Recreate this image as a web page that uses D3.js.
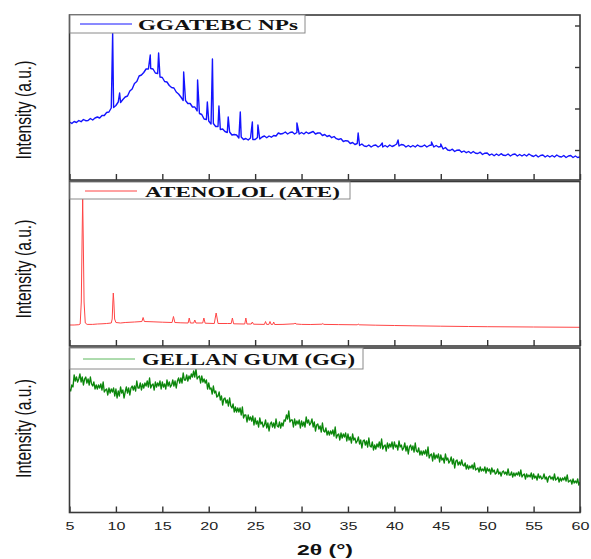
<!DOCTYPE html>
<html><head><meta charset="utf-8">
<script src="https://cdn.jsdelivr.net/npm/d3@7"></script>
<style>body{margin:0;background:#fff}</style>
</head><body><svg id="c" width="591" height="559"></svg>
<script>
// ---------------- DATA ----------------
const xTicks = [5,10,15,20,25,30,35,40,45,50,55,60];
const xTickLabels = ["5","10","15","20","25","30","35","40","45","50","55","60"];
const seriesNames = ["GGATEBC NPs","ATENOLOL (ATE)","GELLAN GUM (GG)"];
const yLabel = "Intensity (a.u.)";
const xLabel = "2θ (°)";
const blueRightTicks = [30, 71.5, 113, 154.5];

// GGATEBC NPs: measured on a 0.25° grid from 5° to 60°
const blueStart = 5, blueStep = 0.25;
const blueValues = [
 58,56.5,58.5,57.5, 59.5,58.3,60.5,59.3, 59.5,61.5,60,62, 63,62,64.5,64.5, 67.5,68,72,72.5,
 74.5,78,77.5,80.5, 83,84,89,91, 96.5,98.5,104,105, 107.5,111,111,111.5, 111,107,106.5,103,
 102.5,98.5,98,94.5, 92.5,92,88,86, 83,79.5,79.5,76.5, 76.5,73,73,69, 66.5,65.5,61,60.5,
 59,56,56.5,53.5, 53.5,50.5,51,48.5, 47.5,48,45,45.5, 45,42,43,40.5, 41.5,40,42,40.5,
 40.5,42.5,41,43, 44,42.3,44,42.8, 44.5,44,47,46, 46.5,48,46,47.5, 48,46,47.5,46,
 47.5,46,48,46.5, 47.5,48.5,46,47, 47,44.5,45.5,43.5, 44.5,42.3,43.5,41.3, 40.5,41.3,38.5,39.3,
 39,36.5,37.5,35.5, 36.5,34.5,36,34, 33.5,35,33,34.5, 35,33,34.5,33, 34.5,33,35,33.5,
 34.5,36,34,35.5, 35,33,34.5,33, 34.5,33,35,33.5, 33.5,35,33,34.5, 35,33,34.5,33,
 33.5,31,32.5,30, 29.5,30.8,28.5,29.8, 30,27.8,29,27.3, 28.5,26.8,28.5,26.8, 26.5,27.8,25.5,26.8,
 27,24.8,26,24.3, 26,24.5,26.3,24.7, 24.5,26,24,25.5, 26,24,25.5,24, 25.5,24,26,24.5,
 23.5,25,23,24.5, 25,23,24.5,23, 24.5,23,25,23.5, 23,24.5,22.5,24, 24.5,22.5,24,22.5,
 23
];
const bluePeaks = [
 [9.65,147],[10.4,87],[13.7,125],[14.6,127],[17.3,108],[18.8,100],[19.85,78],[20.4,121],
 [21.1,74],[22.1,63],[23.4,68],[24.7,58],[25.3,55],[29.5,57],[36.1,47],[38.7,37],
 [40.4,40],[44.0,38],[45.0,36]
];

// ATENOLOL (ATE)
const redPoints = [
 [5,22],[5.5,22],[6,22.3],[6.15,23],[6.27,45],[6.36,110],[6.42,148],[6.48,110],[6.57,45],[6.7,24],
 [6.9,22.6],[7.5,22.6],[8,23],[8.5,23.2],[9,23.5],[9.5,24],[9.6,28],[9.67,45],[9.72,54],[9.78,45],
 [9.86,28],[10,24.5],[10.5,24],[11,24.5],[12,25],[12.8,25.5],[12.93,29.5],[13.06,25.5],[14,25.2],
 [15,24.8],[16.05,24.5],[16.2,30.5],[16.35,24.5],[17,24.2],[17.78,24],[17.9,29],[18.02,24],[18.38,24],
 [18.5,27],[18.62,24],[19.35,24],[19.48,29],[19.61,23.8],[20.6,23.5],[20.72,30],[20.8,34],[20.88,30],
 [21,23.5],[22,23.5],[22.42,23.5],[22.55,29],[22.68,23.2],[23.88,23],[24,29],[24.12,23],[24.58,23],
 [24.7,25],[24.82,22.8],[26,22.6],[26.12,25.5],[26.24,22.6],[26.48,22.6],[26.6,25.5],[26.72,22.6],
 [26.9,22.6],[27,25],[27.1,22.5],[28,22.6],[29.2,23.2],[29.3,24],[29.4,23],[30,22.6],[31,22.5],
 [32.2,22.8],[32.3,23.5],[32.4,22.6],[34,22.4],[36,22.2],[36.1,23],[36.2,22.2],[38,21.8],[40,21.5],
 [42,21.2],[45,20.8],[48,20.5],[50,20.3],[55,20],[60,19.7]
];

// GELLAN GUM (GG): measured on a 0.125° grid from 5° to 60°
const ggStart = 5, ggStep = 0.125;
const ggValues = [
 123,121,127,125,137,131,135,130, 133,138,130,135,127,133,135,129, 133,127,135,128,126,130,123,127,
 123,127,124,128,122,130,120,122, 123,117,124,119,123,120,124,116, 123,114,121,116,125,119,122,114,
 120,125,119,124,117,124,126,122, 126,121,131,124,124,129,122,128, 124,129,126,131,125,134,124,127,
 128,122,130,125,129,126,131,123, 130,125,128,123,132,126,130,125, 127,132,126,131,124,131,134,129,
 134,129,139,132,132,137,131,136, 133,138,135,141,135,143,133,135, 136,129,136,130,133,129,132,123,
 129,123,124,118,126,119,121,115, 116,120,112,116,107,113,114,109, 112,106,114,106,104,108,100,105,
 100,104,100,104,97,105,94,97, 97,90,97,92,95,91,96,87, 94,88,91,85,94,88,90,85,
 87,92,84,89,81,88,90,85, 89,84,93,86,85,90,84,89, 86,92,91,97,93,101,90,92,
 92,85,93,87,91,88,92,84, 91,86,90,85,95,89,92,87, 89,93,85,90,81,87,88,83,
 86,80,89,81,80,84,77,81, 77,81,78,82,76,85,74,77, 78,72,79,74,78,75,79,71,
 78,72,75,69,78,72,74,69, 71,75,68,72,64,71,72,67, 71,65,74,66,65,70,62,67,
 63,68,65,70,64,73,63,66, 67,61,69,64,68,65,70,63, 70,65,67,62,71,65,67,62,
 64,69,61,66,58,65,67,62, 66,60,69,61,60,64,57,61, 57,61,58,62,56,65,54,57,
 58,51,59,53,57,54,58,50, 57,52,54,49,58,52,54,49, 51,55,48,53,44,51,52,47,
 50,47,52,47,46,49,43,47, 43,46,44,47,43,49,42,43, 44,40,45,41,43,41,45,39,
 44,41,43,38,44,40,42,38, 39,43,38,40,36,40,41,38, 40,37,43,37,37,40,35,39,
 36,39,37,40,36,42,35,37, 38,33,38,35,37,35,39,33, 38,34,36,32,38,34,36,33,
 34,38,33,35,30,35,36,33, 35,32,38,32,33,35,30,34, 31,34,32,35,31,37,30,31,
 32,28,33,29,31,29,33,27,
 30
];

// ---------------- CHART ----------------
const svg = d3.select("#c");
const x = d3.scaleLinear().domain([5,60]).range([69.5,580]);
const panels = [
  {top:15, bottom:180, y:d3.scaleLinear().domain([0,165]).range([180,15]),
   box:[70,15,305,33], lineY:24, lineX:[80,132], textX:138, textY:30, textW:160, fs:14.5, color:"#1414ff", labelY:110},
  {top:181.5, bottom:346, y:d3.scaleLinear().domain([0,165]).range([347,182]),
   box:[70,182,350,199], lineY:191, lineX:[85,137], textX:145, textY:196.5, textW:195, fs:15, color:"#ff4545", labelY:269},
  {top:348, bottom:512.5, y:d3.scaleLinear().domain([0,165]).range([512,347]),
   box:[70,348,363,369], lineY:359, lineX:[83,135], textX:142, textY:365, textW:213, fs:16, color:"#0b870b", labelY:428.5}
];

const bluePts = blueValues.map((v,i)=>[blueStart+i*blueStep, v]).concat(bluePeaks).sort((a,b)=>a[0]-b[0]);
const ggPts = ggValues.map((v,i)=>[ggStart+i*ggStep, v]);
const datas = [bluePts, redPoints, ggPts];
const widths = [1.4, 1, 1.35];

const defs = svg.append("defs");
panels.forEach((p,i)=>{
  defs.append("clipPath").attr("id","clip"+i).append("rect")
    .attr("x",x(5)).attr("y",p.top).attr("width",x(60)-x(5)).attr("height",p.bottom-p.top);
});

panels.forEach((p,i)=>{
  const g = svg.append("g");
  const line = d3.line().x(d=>x(d[0])).y(d=>p.y(d[1]));
  const cg = g.append("g").attr("clip-path",`url(#clip${i})`);
  cg.append("path").datum(datas[i]).attr("d",line).attr("fill","none")
    .attr("stroke",p.color).attr("stroke-width", widths[i]).attr("stroke-linejoin","round");
  const ax = d3.axisBottom(x).tickValues(xTicks).tickSizeInner(-6).tickSizeOuter(0).tickPadding(9)
     .tickFormat(i===2 ? ((d,k)=>xTickLabels[k]) : (()=>""));
  const axg = g.append("g").attr("transform",`translate(0,${p.bottom})`).call(ax);
  axg.select(".domain").remove();
  axg.selectAll(".tick line").attr("stroke","#333").attr("stroke-width",1.4);
  axg.selectAll(".tick text").attr("fill","#222")
     .style("font-family","'Liberation Sans', Arial, sans-serif").style("font-size","11.5px")
     .attr("transform","scale(1.4,1)");
  if (i===0) {
    const ay = d3.axisLeft(p.y).tickValues(blueRightTicks).tickSizeInner(5).tickSizeOuter(0).tickFormat(()=>"");
    const ayg = g.append("g").attr("transform",`translate(${x(60)},0)`).call(ay);
    ayg.select(".domain").remove();
    ayg.selectAll(".tick line").attr("stroke","#333").attr("stroke-width",1.4);
  }
  g.append("rect").attr("x",x(5)).attr("y",p.top).attr("width",x(60)-x(5)).attr("height",p.bottom-p.top)
    .attr("fill","none").attr("stroke","#3a3a3a").attr("stroke-width",1.6);
  const b = p.box;
  g.append("rect").attr("x",b[0]).attr("y",b[1]).attr("width",b[2]-b[0]).attr("height",b[3]-b[1])
    .attr("fill","#fff").attr("stroke","#8a8a8a").attr("stroke-width",1);
  g.append("line").attr("x1",p.lineX[0]).attr("x2",p.lineX[1]).attr("y1",p.lineY).attr("y2",p.lineY)
    .attr("stroke", i===2?"#5cb85c":p.color).attr("stroke-width",1);
  g.append("text").attr("x",p.textX).attr("y",p.textY).text(seriesNames[i])
    .attr("textLength",p.textW).attr("lengthAdjust","spacingAndGlyphs")
    .style("font-family","'Liberation Serif','Times New Roman',serif").style("font-weight","bold")
    .style("font-size",p.fs+"px").attr("fill","#111");
  g.append("text").text(yLabel)
    .attr("transform",`translate(31,${p.labelY}) scale(1.4,1) rotate(-90)`)
    .attr("text-anchor","middle")
    .style("font-family","'Liberation Sans', Arial, sans-serif").style("font-size","15.6px").attr("fill","#111");
});

svg.append("text").attr("x",297).attr("y",555).text(xLabel)
  .attr("textLength",56).attr("lengthAdjust","spacingAndGlyphs")
  .style("font-family","'Liberation Sans', Arial, sans-serif").style("font-weight","bold")
  .style("font-size","14px").attr("fill","#111");
</script></body></html>
